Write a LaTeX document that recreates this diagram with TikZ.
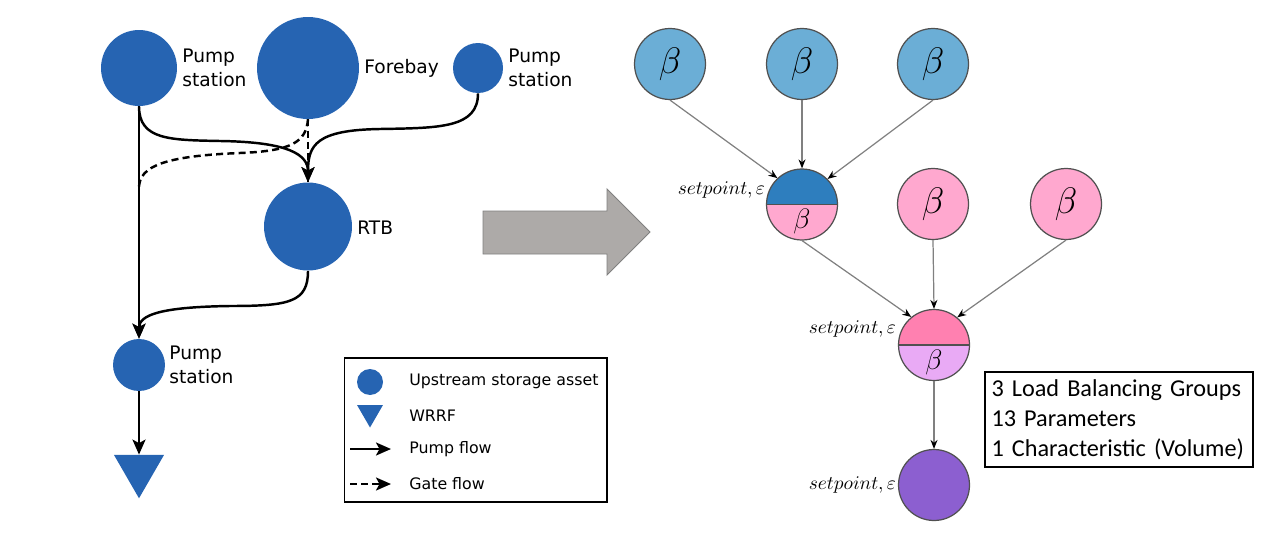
\documentclass[tikz,border=0pt]{standalone}
\usepackage{fix-cm}
\usepackage{fontspec}
\newfontfamily\dejavu{DejaVu Sans}
\newfontfamily\carlito{Carlito}
\usetikzlibrary{arrows.meta,shapes.geometric,positioning}

\definecolor{assetblue}{RGB}{38,100,178}
\definecolor{parblue}{RGB}{107,174,214}
\definecolor{grpblue}{RGB}{46,126,190}
\definecolor{parpink}{RGB}{255,168,207}
\definecolor{grppink}{RGB}{255,128,176}
\definecolor{parviolet}{RGB}{233,170,245}
\definecolor{grppurple}{RGB}{140,95,208}
\definecolor{nodeborder}{RGB}{80,80,80}
\definecolor{linkgrey}{RGB}{128,128,128}
\definecolor{arrowgrey}{RGB}{173,170,168}

\tikzset{
  asset/.style={circle, fill=assetblue, inner sep=0pt},
  wrrf/.style={regular polygon, regular polygon sides=3, shape border rotate=180, fill=assetblue, inner sep=0pt},
  assetlabel/.style={anchor=west, align=left, inner sep=0pt, font=\dejavu\fontsize{10.6}{13.6}\selectfont},
  pumpflow/.style={line width=1.4pt, ->},
  gateflow/.style={line width=1.4pt, dash pattern=on 4pt off 2.4pt},
  legendtext/.style={anchor=west, inner sep=0pt, font=\dejavu\fontsize{9}{11}\selectfont},
  param/.style={circle, draw=nodeborder, line width=0.7pt, minimum size=1.42cm, inner sep=0pt, font=\fontsize{21}{23}\selectfont},
  group/.style 2 args={param, fill=#2,
    path picture={
      \fill [#1] (path picture bounding box.north west) rectangle (path picture bounding box.east);
      \draw [nodeborder, line width=0.7pt] (path picture bounding box.west) -- (path picture bounding box.east);
    }},
  lowerbeta/.style={label={[shift={(0,-0.34cm)}, font=\fontsize{16}{18}\selectfont]center:$\beta$}},
  setlabel/.style={anchor=east, inner sep=1pt, font=\fontsize{11}{12}\selectfont},
  link/.style={draw=linkgrey, line width=0.7pt, -{Stealth[length=1.8mm, width=1.4mm, color=black]}}
}

\begin{document}
\begin{tikzpicture}[x=0.02cm, y=-0.02cm, >={Stealth[length=3mm, width=2.6mm, inset=0.7mm]}]
\useasboundingbox (0,0) rectangle (1273,537);

% Sewer network
\node (ps1) [asset, minimum size=1.52cm] at (139,68) {};
\node (forebay) [asset, minimum size=2.04cm] at (308,68) {};
\node (ps2) [asset, minimum size=1.0cm] at (478,68) {};
\node (rtb) [asset, minimum size=1.76cm] at (308,226.5) {};
\node (ps3) [asset, minimum size=1.04cm] at (139,365) {};
\node (plant) [wrrf, minimum size=1.155cm] at (139,469.4) {};

\node (ps1_lbl) [assetlabel] at (182,68) {Pump\\station};
\node (forebay_lbl) [assetlabel] at (364,68) {Forebay};
\node (ps2_lbl) [assetlabel] at (508,68) {Pump\\station};
\node (rtb_lbl) [assetlabel] at (357,228) {RTB};
\node (ps3_lbl) [assetlabel] at (169,365) {Pump\\station};

\coordinate (gate_join) at (139,188);

\draw [gateflow] (forebay.south) -- (rtb.north);
\draw [gateflow] (forebay.south) .. controls (306,142) and (292,151) .. (240,153) .. controls (165,156) and (139,166) .. (gate_join);
\draw [pumpflow] (ps1.south) -- (ps3.north);
\draw [pumpflow] (ps1.south) .. controls (139,140) and (170,140) .. (220,141) .. controls (290,142) and (308,155) .. (rtb.north);
\draw [pumpflow] (ps2.south) .. controls (478,128) and (440,128) .. (380,129) .. controls (316,130) and (308,145) .. (rtb.north);
\draw [pumpflow] (rtb.south) .. controls (308,302) and (290,306) .. (230,306) .. controls (160,307) and (139,315) .. (ps3.north);
\draw [pumpflow] (ps3.south) -- (plant.north);

% Legend
\node (legend) [draw, line width=0.6pt, minimum width=5.26cm, minimum height=2.88cm, inner sep=0pt] at (475.5,430) {};
\node (leg_asset) [asset, minimum size=0.52cm] at (370,382) {};
\node (leg_wrrf) [wrrf, minimum size=0.6cm] at (370,412.5) {};
\coordinate (leg_pa) at (350,449);
\coordinate (leg_pb) at (391,449);
\coordinate (leg_ga) at (350,484);
\coordinate (leg_gb) at (391,484);
\draw [pumpflow] (leg_pa) -- (leg_pb);
\draw [gateflow, ->] (leg_ga) -- (leg_gb);
\node [legendtext] at (409,381) {Upstream storage asset};
\node [legendtext] at (409,416) {WRRF};
\node [legendtext] at (409,449) {Pump flow};
\node [legendtext] at (409,484) {Gate flow};

% Transformation arrow
\draw [fill=arrowgrey, draw=linkgrey, line width=0.5pt] (483,211) -- (607,211) -- (607,189) -- (650,232) -- (607,275) -- (607,254) -- (483,254) -- cycle;

% Load balancing groups
\node (b1) [param, fill=parblue] at (670,64) {$\beta$};
\node (b2) [param, fill=parblue] at (802,64) {$\beta$};
\node (b3) [param, fill=parblue] at (933,64) {$\beta$};
\node (g1) [group={grpblue}{parpink}, lowerbeta] at (802,204.5) {};
\node (p1) [param, fill=parpink] at (933,204) {$\beta$};
\node (p2) [param, fill=parpink] at (1066,204) {$\beta$};
\node (g2) [group={grppink}{parviolet}, lowerbeta] at (934,345) {};
\node (g3) [param, fill=grppurple] at (934,485) {};

\node (g1_sp) [setlabel] at (767,190) {$setpoint,\varepsilon$};
\node (g2_sp) [setlabel] at (898,329) {$setpoint,\varepsilon$};
\node (g3_sp) [setlabel] at (898,485) {$setpoint,\varepsilon$};

\draw [link] (b1.south) -- (g1.133);
\draw [link] (b2.south) -- (g1.north);
\draw [link] (b3.south) -- (g1.45);
\draw [link] (g1.south) -- (g2.129);
\draw [link] (p1.south) -- (g2.north);
\draw [link] (p2.south) -- (g2.50);
\draw [link] (g2.south) -- (g3.north);

% Summary
\node (summary) [draw, line width=1.2pt, align=left, text width=5.1cm, minimum width=5.36cm, minimum height=1.9cm, font=\carlito\fontsize{13.8}{17.2}\selectfont] at (1119,419.5) {3 Load Balancing Groups\\13 Parameters\\1 Characteristic (Volume)};
\end{tikzpicture}
\end{document}
